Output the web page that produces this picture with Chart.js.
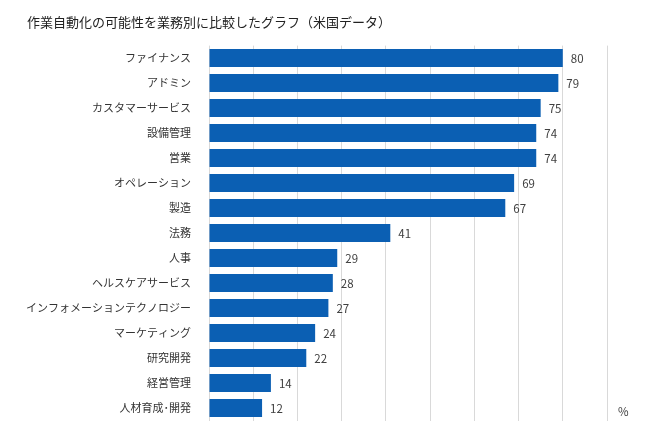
<!DOCTYPE html>
<html lang="ja">
<head>
<meta charset="utf-8">
<script src="https://cdn.jsdelivr.net/npm/chart.js@4/dist/chart.umd.min.js"></script>
<style>
  html, body { margin: 0; padding: 0; background: #fff; }
  #wrap { width: 660px; height: 425px; position: relative; }
</style>
</head>
<body>
<div id="wrap"><canvas id="autoChart"></canvas></div>
<script>
const categories = [
  "ファイナンス", "アドミン", "カスタマーサービス", "設備管理", "営業",
  "オペレーション", "製造", "法務", "人事", "ヘルスケアサービス",
  "インフォメーションテクノロジー", "マーケティング", "研究開発", "経営管理", "人材育成･開発"
];
const values = [80, 79, 75, 74, 74, 69, 67, 41, 29, 28, 27, 24, 22, 14, 12];
const titleText = "作業自動化の可能性を業務別に比較したグラフ（米国データ）";
const unitLabel = "%";

const fontFamily = "'Noto Sans CJK JP', 'Noto Sans', sans-serif";

// value labels at bar ends + "%" unit
const barLabels = {
    id: 'barLabels',
    afterDatasetsDraw(chart) {
        const ctx = chart.ctx;
        const meta = chart.getDatasetMeta(0);
        ctx.save();
        ctx.font = "11.5px " + fontFamily;
        ctx.fillStyle = "#404040";
        ctx.textAlign = "left";
        ctx.textBaseline = "middle";
        meta.data.forEach(function(bar, i) {
            ctx.fillText(values[i], bar.x + 8, bar.y + 1);
        });
        const area = chart.chartArea;
        ctx.fillText(unitLabel, area.right + 11, area.bottom - 9);
        ctx.restore();
    }
};

document.addEventListener("DOMContentLoaded", function () {
    const ctx = document.getElementById('autoChart');

    new Chart(ctx, {
        type: 'bar',
        data: {
            labels: categories,
            datasets: [{
                data: values,
                backgroundColor: '#0b5fb3',
                borderWidth: 0,
                categoryPercentage: 1,
                barPercentage: 0.72
            }]
        },
        plugins: [barLabels],
        options: {
            indexAxis: 'y',
            responsive: true,
            maintainAspectRatio: false,
            animation: false,
            layout: {
                padding: { left: 27, right: 53, top: 0, bottom: 4.5 }
            },
            plugins: {
                legend: { display: false },
                tooltip: { enabled: false },
                title: {
                    display: true,
                    text: titleText,
                    align: 'start',
                    color: '#222',
                    font: { family: fontFamily, size: 13, weight: 'normal', lineHeight: 1.2 },
                    padding: { top: 14, bottom: 16 }
                }
            },
            scales: {
                x: {
                    min: 0,
                    max: 90,
                    afterFit: function(scale) { scale.height = 0; },
                    ticks: { display: false, stepSize: 10 },
                    grid: { color: '#d9d9d9', lineWidth: 1, drawTicks: false },
                    border: { display: false }
                },
                y: {
                    afterFit: function(scale) {
                        scale.width = 182;
                        scale.paddingTop = 0;
                        scale.paddingBottom = 0;
                    },
                    ticks: {
                        color: '#333',
                        padding: 10,
                        font: { family: fontFamily, size: 11 }
                    },
                    grid: { display: false },
                    border: { display: false }
                }
            }
        }
    });
});
</script>
</body>
</html>
